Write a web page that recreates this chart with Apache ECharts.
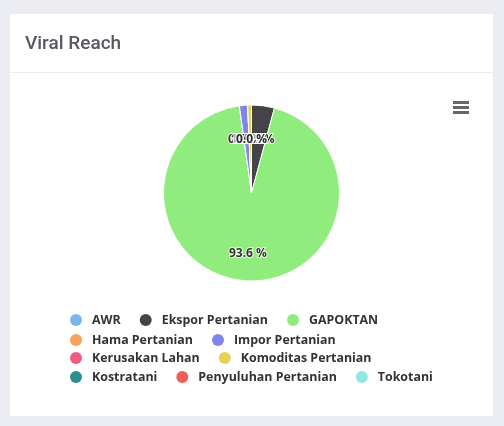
<!DOCTYPE html>
<html><head><meta charset="utf-8">
<script src="https://cdn.jsdelivr.net/npm/echarts@6/dist/echarts.min.js"></script>
<style>html,body{margin:0;padding:0;background:#ebedf2}#c{width:504px;height:426px}</style>
</head><body><div id="c"></div>
<script>
const categories = ['AWR','Ekspor Pertanian','GAPOKTAN','Hama Pertanian','Impor Pertanian','Kerusakan Lahan','Komoditas Pertanian','Kostratani','Penyuluhan Pertanian','Tokotani'];
const values = [0, 42, 936, 0, 15, 0, 7, 0, 0, 0];
const colors = ['#7cb5ec','#434348','#90ed7d','#f7a35c','#8085e9','#f15c80','#e4d354','#2b908f','#f45b5b','#91e8e1'];
const legendRows = [[0,1,2],[3,4],[5,6],[7,8,9]];
const titleText = 'Viral Reach';

const FONT = '"Open Sans", sans-serif';
const total = values.reduce((a,b)=>a+b,0);
// mid-angle (in value units) of each slice, used for the data labels
const mids = [];
values.reduce((acc,v)=>{ mids.push(acc + v/2); return acc + v; }, 0);

const chart = echarts.init(document.getElementById('c'), null, {renderer:'canvas'});
const data = categories.map((n,i)=>({name:n, value:values[i], itemStyle:{color:colors[i]}}));
const rowTops = [313, 333, 351, 370];
const legends = legendRows.map((row,k)=>({
  data: row.map(i=>categories[i]),
  orient:'horizontal', left:70, top:rowTops[k], padding:0,
  icon:'circle', itemWidth:22, itemHeight:12, itemGap:19,
  itemStyle:{borderWidth:0},
  textStyle:{fontFamily:FONT, fontSize:12.4, fontWeight:'bold', color:'#333333', lineHeight:14}
}));
chart.setOption({
  backgroundColor:'#ebedf2',
  animation:false,
  title:{text:titleText, left:25, top:35, padding:0,
    textStyle:{fontFamily:'Roboto', fontSize:19, fontWeight:500, color:'#575962'}},
  graphic:[
    {type:'rect', z:-10, shape:{x:10,y:14,width:483,height:402}, style:{fill:'#ffffff'}},
    {type:'rect', z:-9, shape:{x:10,y:72,width:483,height:1}, style:{fill:'#ebedf2'}},
    {type:'rect', shape:{x:453,y:101,width:16,height:3}, style:{fill:'#666666'}},
    {type:'rect', shape:{x:453,y:106,width:16,height:3}, style:{fill:'#666666'}},
    {type:'rect', shape:{x:453,y:111,width:16,height:3}, style:{fill:'#666666'}}
  ],
  legend: legends,
  polar:{center:[251.5,193], radius:[0,114]},
  angleAxis:{type:'value', min:0, max:total, startAngle:90, clockwise:true, show:false},
  radiusAxis:{type:'value', min:0, max:1, show:false},
  series:[
    {type:'pie', center:[251.5,193], radius:[0,88], startAngle:90, clockwise:true,
     avoidLabelOverlap:false, label:{show:false}, labelLine:{show:false},
     itemStyle:{borderColor:'#ffffff', borderWidth:1},
     emphasis:{scale:false}, data:data},
    {type:'scatter', coordinateSystem:'polar', silent:true, symbolSize:0,
     data: values.map((v,i)=>({name:categories[i], value:[0.5, mids[i]]})),
     label:{show:true, position:'inside', offset:[0,3.5], fontFamily:FONT, fontSize:12, fontWeight:'bold',
       color:'#000000', textBorderColor:'#ffffff', textBorderWidth:2,
       formatter:p=>(values[p.dataIndex]/total*100).toFixed(1)+' %'},
     emphasis:{disabled:true}, z:5}
  ]
});
</script></body></html>
